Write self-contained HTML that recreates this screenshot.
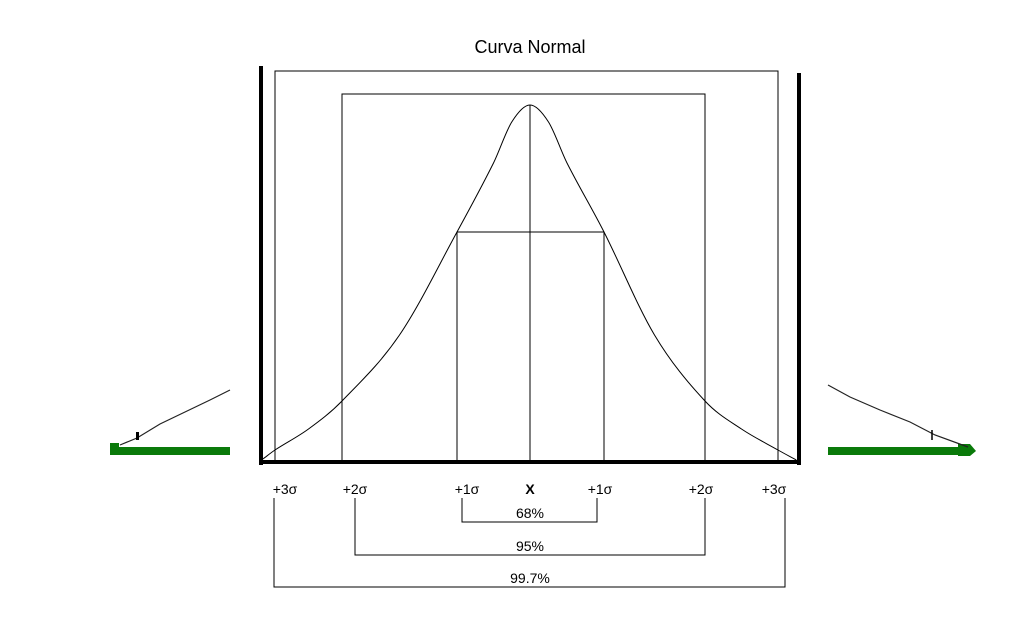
<!DOCTYPE html>
<html><head><meta charset="utf-8"><style>
html,body{margin:0;padding:0;background:#fff}
svg text{font-family:"Liberation Sans",sans-serif;fill:#000}
</style></head><body>
<svg width="1022" height="614" viewBox="0 0 1022 614">
<text x="530" y="53" font-size="18" text-anchor="middle">Curva Normal</text>
<g id="deco">
<rect x="110" y="447" width="120" height="8" fill="#0a7a0a"/>
<rect x="110" y="443" width="9" height="12" fill="#0a7a0a"/>
<polyline points="120,445 137,438 160,424 185,412 210,400 230,390" fill="none" stroke="#222" stroke-width="1.2"/>
<rect x="136" y="432" width="3" height="8" fill="#000"/>
<rect x="828" y="447" width="142" height="8" fill="#0a7a0a"/>
<polygon points="958,444 970,444 976,451 970,456 958,456" fill="#0a7a0a"/>
<polyline points="828,385 850,397 880,410 910,422 935,435 968,447" fill="none" stroke="#222" stroke-width="1.2"/>
<line x1="932" y1="430" x2="932" y2="440" stroke="#000" stroke-width="1.5"/>
</g>
<g id="plot"></g>
</svg>
<script>
const sigmaZ=[-3,-2,-1,0,1,2,3];
const sigmaLabels=["+3σ","+2σ","+1σ","X","+1σ","+2σ","+3σ"];
const curveZ=[-3.18,-3,-2.5,-2,-1.5,-1,-0.5,-0.25,0,0.25,0.5,1,1.5,2,2.5,3,3.25];
const curveV=[4,13,34,62,128,231,300,341,358,341,300,231,128,62,34,13,3];
const bandPct=["68%","95%","99.7%"];
const bandK=[1,2,3];
const NS="http://www.w3.org/2000/svg";
const g=document.getElementById('plot');
const zd=[-3,-2,-1,0,1,2,3], zr=[275,342,457,530,604,705,778];
function X(z){for(let i=0;i<zd.length-1;i++){if(z<=zd[i+1]||i==zd.length-2){const t=(z-zd[i])/(zd[i+1]-zd[i]);return zr[i]+t*(zr[i+1]-zr[i]);}}}
const base=463;
function Y(v){return base-v;}
function vAt(z){for(let i=0;i<curveZ.length-1;i++){if(z<=curveZ[i+1]){const t=(z-curveZ[i])/(curveZ[i+1]-curveZ[i]);return curveV[i]+t*(curveV[i+1]-curveV[i]);}}return curveV[curveV.length-1];}
function mk(tag,attrs,name){const e=document.createElementNS(NS,tag);for(const k in attrs)e.setAttribute(k,attrs[k]);


g.appendChild(e);return e;}
bandK.forEach(k=>{const x1=X(-k),x2=X(k);const top=k==3?71:(k==2?94:Y(vAt(-1)));
mk('rect',{x:x1,y:top,width:x2-x1,height:base-top,fill:'none',stroke:'#000','stroke-width':1},'sigma-'+k+'-box');});
mk('line',{x1:X(0),y1:Y(vAt(0)),x2:X(0),y2:base,stroke:'#000','stroke-width':1},'mean-line');
const pts=curveZ.map((z,i)=>[X(z),Y(curveV[i])]);
let d='M'+pts[0][0]+','+pts[0][1];
for(let i=0;i<pts.length-1;i++){const p0=pts[Math.max(0,i-1)],p1=pts[i],p2=pts[i+1],p3=pts[Math.min(pts.length-1,i+2)];
const h=p2[0]-p1[0];
const m1=(p2[1]-p0[1])/((p2[0]-p0[0])||1), m2=(p3[1]-p1[1])/((p3[0]-p1[0])||1);
d+=` C${p1[0]+h/3},${p1[1]+m1*h/3} ${p2[0]-h/3},${p2[1]-m2*h/3} ${p2[0]},${p2[1]}`;}
mk('path',{d:d,fill:'none',stroke:'#000','stroke-width':1},'normal-curve');
mk('line',{x1:261,y1:66,x2:261,y2:base+2,stroke:'#000','stroke-width':4},'left-border');
mk('line',{x1:799,y1:73,x2:799,y2:base+2,stroke:'#000','stroke-width':4},'right-border');
mk('line',{x1:259,y1:base-1,x2:801,y2:base-1,stroke:'#000','stroke-width':4},'x-axis');
sigmaZ.forEach((z,i)=>{const t=mk('text',{x:X(z)+(z<0?10:z>0?-4:0)+(z==-2?3:0),y:494,'font-size':14,'text-anchor':'middle','font-weight':z==0?'bold':'normal'},'sigma-label');t.textContent=sigmaLabels[i];});
bandK.forEach((k,i)=>{const x1=X(-k)+(k==1?5:k==2?13:-1),x2=X(k)+(k==1?-7:k==2?0:7);
const yy=[522,555,587][i];
mk('polyline',{points:`${x1},498 ${x1},${yy} ${x2},${yy} ${x2},498`,fill:'none',stroke:'#000','stroke-width':1},'band-bracket');
const t=mk('text',{x:530,y:yy-4,'font-size':14,'text-anchor':'middle'},'band-label');t.textContent=bandPct[i];});
</script>
</body></html>
